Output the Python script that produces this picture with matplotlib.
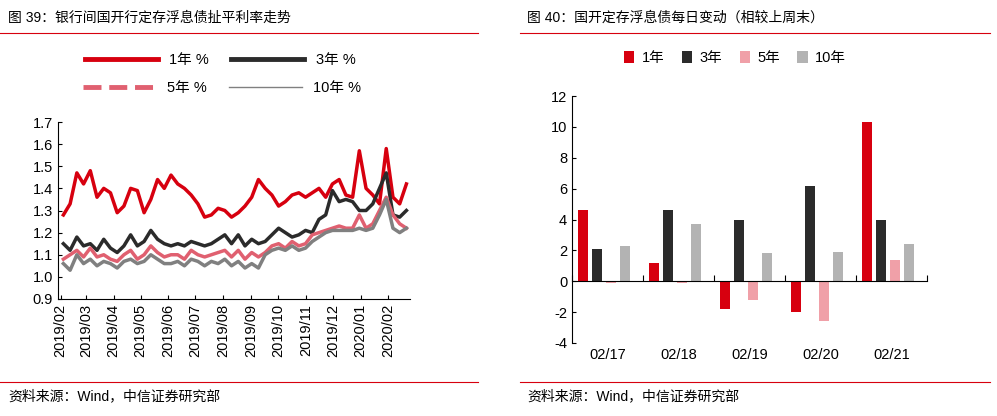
import matplotlib
matplotlib.use("Agg")
import matplotlib.pyplot as plt
import matplotlib.dates as mdates
import numpy as np
import pandas as pd

plt.rcParams['font.family'] = ['Liberation Sans', 'Noto Sans CJK SC']

y1 = [1.28,1.33,1.47,1.42,1.48,1.36,1.40,1.38,1.29,1.32,
      1.40,1.39,1.29,1.35,1.44,1.40,1.46,1.42,1.40,1.37,
      1.33,1.27,1.28,1.31,1.30,1.27,1.29,1.32,1.36,1.44,
      1.40,1.37,1.32,1.34,1.37,1.38,1.36,1.38,1.40,1.36,
      1.42,1.44,1.37,1.36,1.57,1.40,1.37,1.33,1.58,1.36,
      1.33,1.42]
y3 = [1.15,1.12,1.18,1.14,1.15,1.12,1.17,1.13,1.11,1.14,
      1.19,1.14,1.16,1.21,1.17,1.15,1.14,1.15,1.14,1.16,
      1.15,1.14,1.15,1.17,1.19,1.15,1.19,1.14,1.17,1.15,
      1.16,1.19,1.22,1.20,1.18,1.19,1.21,1.20,1.26,1.28,
      1.39,1.34,1.35,1.34,1.30,1.30,1.33,1.40,1.47,1.28,
      1.27,1.30]
y5 = [1.08,1.10,1.12,1.09,1.13,1.09,1.10,1.08,1.07,1.10,
      1.12,1.08,1.10,1.14,1.11,1.09,1.10,1.10,1.08,1.12,
      1.10,1.09,1.10,1.11,1.12,1.09,1.12,1.08,1.11,1.09,
      1.11,1.14,1.15,1.13,1.16,1.14,1.15,1.19,1.20,1.21,
      1.22,1.23,1.22,1.22,1.28,1.22,1.24,1.30,1.36,1.28,
      1.24,1.22]
y10 = [1.06,1.03,1.10,1.06,1.08,1.05,1.07,1.06,1.04,1.07,
       1.08,1.06,1.07,1.10,1.08,1.06,1.06,1.07,1.05,1.08,
       1.07,1.05,1.07,1.06,1.08,1.05,1.07,1.04,1.06,1.04,
       1.10,1.12,1.13,1.12,1.14,1.12,1.13,1.16,1.18,1.20,
       1.21,1.21,1.21,1.21,1.22,1.21,1.22,1.28,1.35,1.22,
       1.20,1.22]
dates = pd.date_range("2019-02-04", "2020-02-21", periods=len(y1))

cats = ["02/17", "02/18", "02/19", "02/20", "02/21"]
b1 = [4.6, 1.2, -1.8, -2.0, 10.3]
b3 = [2.1, 4.6, 4.0, 6.2, 4.0]
b5 = [-0.1, -0.1, -1.2, -2.6, 1.4]
b10 = [2.3, 3.7, 1.8, 1.9, 2.4]

RED = "#D7000F"; DARK = "#2B2B2B"; PINK = "#E06070"; GREY = "#808080"
BPINK = "#F0A0A8"; BGREY = "#B3B3B3"

fig = plt.figure(figsize=(9.97, 4.16), dpi=100)
W, H = 997, 416
def ax_at(x0, y0, x1, y1_):
    return fig.add_axes([x0/W, 1-y1_/H, (x1-x0)/W, (y1_-y0)/H])

fig.text(8/W, 1-18/H, "图 39：银行间国开行定存浮息债扯平利率走势", fontsize=10, va="center")
fig.text(527/W, 1-18/H, "图 40：国开定存浮息债每日变动（相较上周末）", fontsize=10, va="center")
fig.text(8/W, 1-396/H, "资料来源：Wind，中信证券研究部", fontsize=10, va="center")
fig.text(527/W, 1-396/H, "资料来源：Wind，中信证券研究部", fontsize=10, va="center")
for xa, xb in [(0, 478), (520, 990)]:
    for yy in [33, 382]:
        fig.add_artist(plt.Line2D([xa/W, xb/W], [1-yy/H]*2, color=RED, lw=0.8))

ax = ax_at(58, 122, 410, 299)
ax.plot(dates, y1, color=RED, lw=2.5)
ax.plot(dates, y3, color=DARK, lw=2.5)
ax.plot(dates, y5, color=PINK, lw=2.5)
ax.plot(dates, y10, color=GREY, lw=2.5)
ax.set_ylim(0.9, 1.7)
ticks = np.arange(0.9, 1.71, 0.1)
ax.set_yticks(ticks)
ax.set_yticklabels([f"{v:.1f}" for v in ticks], fontsize=10.5)
ax.set_xlim(pd.Timestamp("2019-01-29"), pd.Timestamp("2020-02-25"))
ax.xaxis.set_major_locator(mdates.MonthLocator())
ax.xaxis.set_major_formatter(mdates.DateFormatter("%Y/%m"))
plt.setp(ax.get_xticklabels(), rotation=90, fontsize=10.5)
for s in ["top", "right"]:
    ax.spines[s].set_visible(False)
ax.tick_params(direction="in", length=3)

fig.legend([plt.Line2D([], [], color=RED, lw=3.5), plt.Line2D([], [], color=DARK, lw=3.5)],
           ["1年 %", "3年 %"], ncol=2, loc="center", bbox_to_anchor=(220/W, 1-60/H),
           frameon=False, fontsize=10.5, handlelength=5, columnspacing=1.5)
fig.legend([plt.Line2D([], [], color=PINK, lw=3.5, ls="--"), plt.Line2D([], [], color=GREY, lw=1)],
           ["5年 %", "10年 %"], ncol=2, loc="center", bbox_to_anchor=(222/W, 1-88/H),
           frameon=False, fontsize=10.5, handlelength=5, columnspacing=1.5)

bx = ax_at(572, 96, 927, 343)
x = np.arange(len(cats))
w = 0.14
off = [o + w/2 for o in [-0.42, -0.22, -0.02, 0.18]]
hs = []
for o, vals, c in zip(off, [b1, b3, b5, b10], [RED, DARK, BPINK, BGREY]):
    hs.append(bx.bar(x + o, vals, width=w, color=c))
bx.set_ylim(-4, 12)
bx.set_yticks(range(-4, 13, 2))
bx.set_yticklabels([str(v) for v in range(-4, 13, 2)], fontsize=10.5)
bx.set_xlim(-0.5, 4.5)
bx.spines["bottom"].set_position(("data", 0))
for s in ["top", "right"]:
    bx.spines[s].set_visible(False)
bx.set_xticks(np.arange(-0.5, 4.6, 1))
bx.set_xticklabels([])
bx.tick_params(axis="x", direction="in", length=4)
bx.tick_params(axis="y", direction="in", length=3)
for i, c in enumerate(cats):
    bx.text(i, -4.75, c, ha="center", va="center", fontsize=10.5)
fig.legend(hs, ["1年", "3年", "5年", "10年"], ncol=4, loc="center",
           bbox_to_anchor=(735/W, 1-58/H), frameon=False, fontsize=10.5,
           handlelength=0.7, handleheight=0.9, columnspacing=1.2, handletextpad=0.5)

fig.savefig("out.png", dpi=100)
